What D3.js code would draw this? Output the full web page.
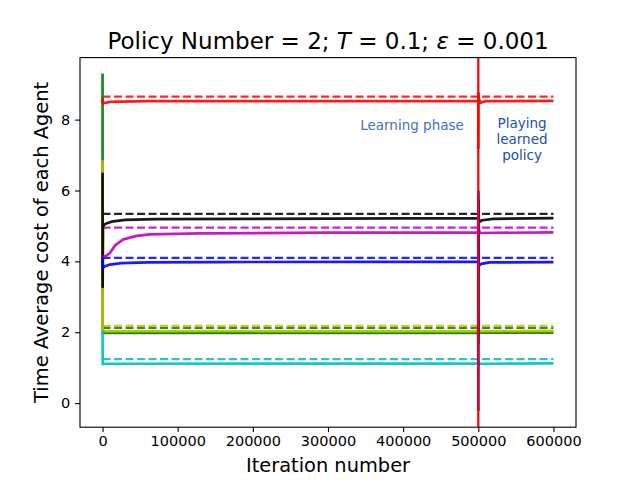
<!DOCTYPE html>
<html>
<head>
<meta charset="utf-8">
<script src="https://cdn.jsdelivr.net/npm/d3@7"></script>
<style>
  body { margin: 0; background: #fff; }
  text { font-family: "DejaVu Sans", sans-serif; }
</style>
</head>
<body>
<div id="chart"></div>
<script>
const width = 640,
  height = 480,
  margin = { top: 57.6, bottom: 52.8, left: 80, right: 64 };

// DATA
const iterTicks = [0, 100000, 200000, 300000, 400000, 500000, 600000];
const costTicks = [0, 2, 4, 6, 8];
const phaseSwitch = 500000;

// solid runs: [iteration, time average cost]
const greenRun = [[0, 9.3], [150, 2.1], [800, 1.98], [500000, 1.99], [500000, 2.3], [500300, 1.92], [501500, 1.99], [600000, 1.99]];
const yellowRun = [[0, 6.85], [150, 2.06], [800, 2.03], [500000, 2.04], [500000, 2.2], [500300, 1.95], [501500, 2.03], [600000, 2.04]];
const cyanRun = [[0, 2.04], [200, 1.1], [1500, 1.11], [500000, 1.12], [500000, 1.2], [500300, 1.05], [501500, 1.11], [600000, 1.12]];
const blackRun = [[0, 6.5], [150, 3.28], [600, 5.0], [4000, 5.06], [12000, 5.12], [30000, 5.17], [70000, 5.19], [200000, 5.2], [500000, 5.22], [500000, 1.69], [500150, 5.72], [500700, 5.1], [505000, 5.16], [520000, 5.2], [600000, 5.22]];
const redRun = [[0, 8.62], [300, 8.45], [2000, 8.47], [10000, 8.5], [60000, 8.52], [500000, 8.53], [500000, 7.2], [500200, 8.75], [500800, 8.58], [503000, 8.48], [510000, 8.52], [600000, 8.53]];
const magentaRun = [[0, 4.12], [5000, 4.16], [10000, 4.24], [16600, 4.45], [27700, 4.62], [45500, 4.72], [63200, 4.76], [130000, 4.79], [300000, 4.81], [500000, 4.82], [500000, 4.6], [500300, 4.95], [502000, 4.8], [600000, 4.82]];
const blueRun = [[0, 4.12], [400, 3.82], [3000, 3.86], [10000, 3.91], [25000, 3.95], [60000, 3.97], [150000, 3.98], [500000, 3.99], [500000, -0.2], [500150, 5.97], [500600, 3.88], [504000, 3.93], [515000, 3.97], [600000, 3.98]];

// dashed reference levels
const refAgents = ["red", "black", "magenta", "blue", "yellow", "green", "cyan"];
const refValues = [8.65, 5.34, 4.95, 4.10, 2.18, 2.12, 1.24];

const agentColor = {
  red: "#ff0000", black: "#000000", magenta: "#bf00bf", blue: "#0000ff",
  yellow: "#bfbf00", green: "#008000", cyan: "#00bfbf"
};

const runs = [
  { name: "green", pts: greenRun },
  { name: "yellow", pts: yellowRun },
  { name: "cyan", pts: cyanRun },
  { name: "black", pts: blackRun },
  { name: "red", pts: redRun },
  { name: "magenta", pts: magentaRun },
  { name: "blue", pts: blueRun }
];

const svg = d3.select("#chart")
  .append("svg")
  .attr("width", width)
  .attr("height", height);

// SCALES
const x = d3.scaleLinear()
  .domain([-30000, 630000])
  .range([margin.left, width - margin.right]);

const y = d3.scaleLinear()
  .domain([-0.68, 9.75])
  .range([height - margin.bottom, margin.top]);

// dashed levels
svg.append("g")
  .selectAll("line")
  .data(refValues)
  .join("line")
  .attr("x1", x(0))
  .attr("x2", x(600000))
  .attr("y1", d => y(d))
  .attr("y2", d => y(d))
  .attr("stroke", (d, i) => agentColor[refAgents[i]])
  .attr("stroke-opacity", 0.85)
  .attr("stroke-width", 2.2)
  .attr("stroke-dasharray", "8,3.5");

// solid runs
const line = d3.line()
  .x(d => x(d[0]))
  .y(d => y(d[1]));

svg.append("g")
  .selectAll("path")
  .data(runs)
  .join("path")
  .attr("d", d => line(d.pts))
  .attr("fill", "none")
  .attr("stroke", d => agentColor[d.name])
  .attr("stroke-opacity", 0.9)
  .attr("stroke-width", 2.7)
  .attr("stroke-linejoin", "round");

// phase divider
svg.append("line")
  .attr("x1", x(phaseSwitch))
  .attr("x2", x(phaseSwitch))
  .attr("y1", y.range()[0])
  .attr("y2", y.range()[1])
  .attr("stroke", "#ff0000")
  .attr("stroke-width", 2.2);

// AXES
const xAxis = svg.append("g")
  .attr("transform", `translate(0,${height - margin.bottom})`)
  .call(d3.axisBottom(x).tickValues(iterTicks).tickFormat(d3.format("d")).tickSizeOuter(0).tickSize(4.9).tickPadding(4));

const yAxis = svg.append("g")
  .attr("transform", `translate(${margin.left},0)`)
  .call(d3.axisLeft(y).tickValues(costTicks).tickFormat(d3.format("d")).tickSizeOuter(0).tickSize(4.9).tickPadding(5));

[xAxis, yAxis].forEach(a => {
  a.select(".domain").remove();
  a.selectAll("line").attr("stroke", "#000").attr("stroke-width", 1.1);
  a.selectAll("text")
    .attr("font-family", "DejaVu Sans")
    .attr("font-size", 14.5)
    .attr("fill", "#000");
});

// frame
svg.append("rect")
  .attr("x", margin.left)
  .attr("y", margin.top)
  .attr("width", width - margin.left - margin.right)
  .attr("height", height - margin.top - margin.bottom)
  .attr("fill", "none")
  .attr("stroke", "#000")
  .attr("stroke-width", 1.1);

// LABELS
const title = svg.append("text")
  .attr("x", (margin.left + width - margin.right) / 2)
  .attr("y", 49)
  .attr("text-anchor", "middle")
  .attr("font-size", 23)
  .attr("fill", "#000");
title.append("tspan").text("Policy Number = 2; ");
title.append("tspan").attr("font-style", "italic").text("T");
title.append("tspan").text(" = 0.1; ");
title.append("tspan").attr("font-style", "italic").text("ε");
title.append("tspan").text(" = 0.001");

svg.append("text")
  .attr("x", (margin.left + width - margin.right) / 2)
  .attr("y", 472)
  .attr("text-anchor", "middle")
  .attr("font-size", 19.4)
  .text("Iteration number");

svg.append("text")
  .attr("transform", `translate(48,${(margin.top + height - margin.bottom) / 2}) rotate(-90)`)
  .attr("text-anchor", "middle")
  .attr("font-size", 19.4)
  .text("Time Average cost of each Agent");

// phase notes
svg.append("text")
  .attr("x", 412)
  .attr("y", 130)
  .attr("text-anchor", "middle")
  .attr("font-family", "Liberation Sans")
  .attr("font-size", 13.5)
  .attr("fill", "#4a70c0")
  .text("Learning phase");

svg.append("text")
  .attr("text-anchor", "middle")
  .attr("font-family", "Liberation Sans")
  .attr("font-size", 13.5)
  .attr("fill", "#2050b0")
  .selectAll("tspan")
  .data(["Playing", "learned", "policy"])
  .join("tspan")
  .attr("x", 522)
  .attr("y", (d, i) => 128 + i * 16)
  .text(d => d);
</script>
</body>
</html>
